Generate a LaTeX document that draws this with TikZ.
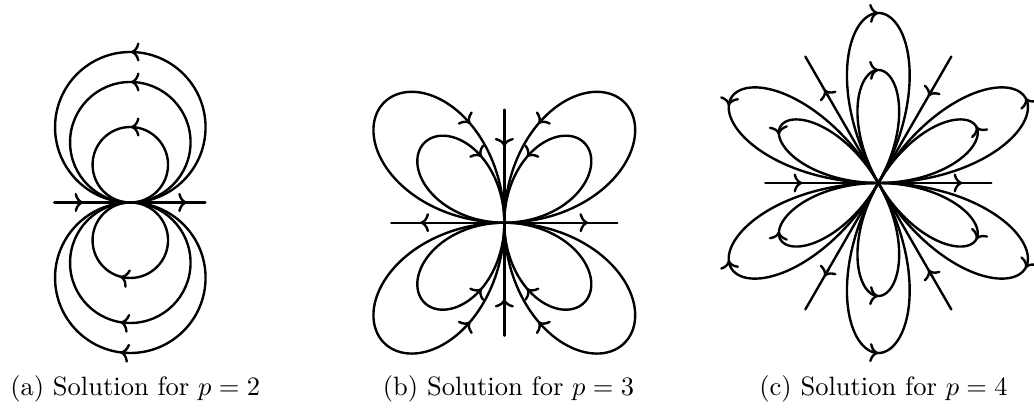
\documentclass[tikz,border=0pt]{standalone}
\usetikzlibrary{arrows.meta}
\newcommand\petalarrow[4]{\draw[arr] ({#2+#3}:{#1*cos(3*(#3))}) -- ({#2+#4}:{#1*cos(3*(#4))});}
\begin{document}
\begin{tikzpicture}[x=0.3772pt,y=0.3772pt,
  flow/.style={line width=0.9pt, line cap=round, line join=round},
  arr/.style={line width=0.9pt, -{To[length=3.3pt,width=7.2pt]}},
  captext/.style={font=\fontsize{10}{12}\selectfont, anchor=base, inner sep=0pt}]
\useasboundingbox (0,0) rectangle (1034,408);

% ---------- (a) p = 2 ----------
\begin{scope}[shift={(130.3,205.5)}]
  \draw[flow] (-76,0) -- (75,0);
  \foreach \d in {150.5,120.5,75.5}{
    \pgfmathsetmacro\R{\d/2}
    \draw[flow] (0,\R) circle[radius=\R];
    \draw[flow] (0,-\R) circle[radius=\R];
    \draw[arr] (2,\d) -- (0.5,\d);
    \pgfmathsetmacro\ph{270-asin(10/\R)}
    \draw[arr] ({\R*cos(\ph+1)},{-\R+\R*sin(\ph+1)}) -- ({\R*cos(\ph)},{-\R+\R*sin(\ph)});
  }
  \draw[arr] (-55,0) -- (-47,0);
  \draw[arr] (48.5,0) -- (56.7,0);
\end{scope}

% ---------- (b) p = 3 ----------
\begin{scope}[shift={(504.3,185.3)}]
  \draw[flow] (-113,0) -- (113,0);
  \draw[flow] (0,-113) -- (0,113);
  \foreach \a in {170,113}{
    \draw[flow] plot[domain=0:360, samples=721] ({\a*sin(2*\x)*cos(\x)},{\a*sin(2*\x)*sin(\x)});
    \foreach \sx/\sy in {1/1,-1/1,1/-1,-1/-1}{
      \draw[arr] ({\sx*\a*sin(141)*cos(70.5)},{\sy*\a*sin(141)*sin(70.5)}) -- ({\sx*\a*sin(142)*cos(71)},{\sy*\a*sin(142)*sin(71)});
    }
  }
  \draw[arr] (76,0) -- (84,0);
  \draw[arr] (-76,0) -- (-84,0);
  \draw[arr] (0,84) -- (0,76);
  \draw[arr] (0,-84) -- (0,-76);
\end{scope}

% ---------- (c) p = 4 ----------
\begin{scope}[shift={(878.3,225)}]
  \draw[flow] (-113,0) -- (113,0);
  \draw[flow] (60:146) -- (240:146);
  \draw[flow] (120:146) -- (300:146);
  \foreach \a/\s in {170/2.7,113/4.05}{
    \draw[flow] plot[domain=0:180, samples=541] ({\a*sin(3*\x)*cos(\x)},{\a*sin(3*\x)*sin(\x)});
    \draw[flow] plot[domain=0:180, samples=541] ({-\a*sin(3*\x)*cos(\x)},{-\a*sin(3*\x)*sin(\x)});
    \petalarrow{\a}{90}{0.5}{0}
    \petalarrow{\a}{30}{-0.5}{0}
    \petalarrow{\a}{330}{0.5}{0}
    \petalarrow{\a}{270}{-0.5}{0}
    \petalarrow{\a}{150}{\s-0.5}{\s}
    \petalarrow{\a}{210}{-\s+0.5}{-\s}
  }
  \draw[arr] (-84,0) -- (-76,0);
  \draw[arr] (76,0) -- (84,0);
  \draw[arr] (120:100) -- (120:108);
  \draw[arr] (240:100) -- (240:108);
  \draw[arr] (60:108) -- (60:100);
  \draw[arr] (300:108) -- (300:100);
\end{scope}

% ---------- captions ----------
\node[captext] (capa) at (135.2,12) {(a) Solution for $p=2$};
\node[captext] (capb) at (508.5,12) {(b) Solution for $p=3$};
\node[captext] (capc) at (883.5,12) {(c) Solution for $p=4$};
\end{tikzpicture}
\end{document}
